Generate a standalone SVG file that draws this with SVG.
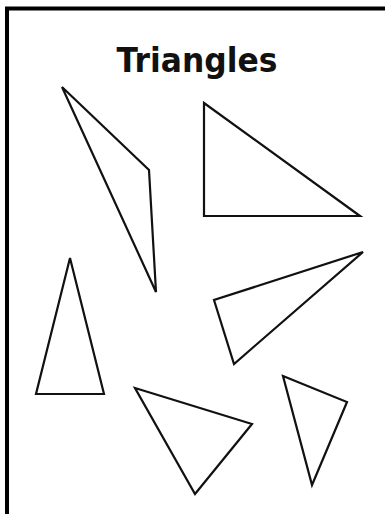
<svg xmlns="http://www.w3.org/2000/svg" width="385" height="514" viewBox="0 0 385 514">
<style>
.tri{fill:none;stroke:#111;stroke-width:2.2;stroke-linejoin:miter}
.frame{fill:none;stroke:#000;stroke-width:4}
.title{font-family:"DejaVu Sans",sans-serif;font-weight:bold;font-size:33px;fill:#111}
</style>
<rect width="385" height="514" fill="#fff"/>
<path class="frame" d="M7,520 V8.5 H390"/>
<text class="title" x="197" y="72" text-anchor="middle" textLength="161" lengthAdjust="spacingAndGlyphs">Triangles</text>
<g id="tri1"><polygon class="tri" points="62,87 149,170 156,292"/></g>
<g id="tri2"><polygon class="tri" points="204,103 204,216 360,216"/></g>
<g id="tri3"><polygon class="tri" points="363,252 214,300 234,364"/></g>
<g id="tri4"><polygon class="tri" points="70,258 36,394 104,394"/></g>
<g id="tri5"><polygon class="tri" points="135,388 252,424 195,494"/></g>
<g id="tri6"><polygon class="tri" points="283,376 347,402 312,485"/></g>
</svg>
